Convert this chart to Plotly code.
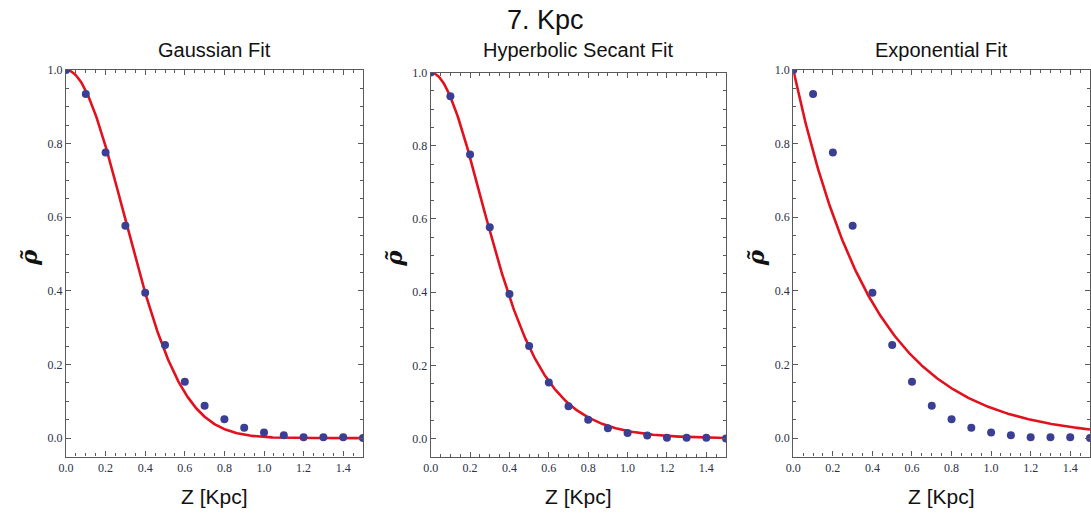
import numpy as np
import plotly.graph_objects as go

# Normalised density profile sampled every 0.1 Kpc above the plane
z_kpc = [0.0, 0.1, 0.2, 0.3, 0.4, 0.5, 0.6, 0.7, 0.8, 0.9, 1.0, 1.1, 1.2, 1.3, 1.4, 1.5]
rho_norm = [1.0, 0.935, 0.776, 0.577, 0.395, 0.253, 0.153, 0.088, 0.051, 0.028,
            0.015, 0.008, 0.002, 0.002, 0.002, 0.0]

panel_titles = ["Gaussian Fit", "Hyperbolic Secant Fit", "Exponential Fit"]
main_title = "7. Kpc"
x_title = "Z [Kpc]"
y_title = "\u03c1\u0303"

# Fitted scale heights (Kpc) for each model
h_gauss = 0.415
h_sech = 0.38
h_exp = 0.40

z_fine = np.linspace(0.0, 1.5, 301)
fits = [
    np.exp(-(z_fine / h_gauss) ** 2),
    1.0 / np.cosh(z_fine / h_sech) ** 2,
    np.exp(-z_fine / h_exp),
]

W, H = 1091, 515
# panel frames in pixels: (left, right, top, bottom)
frames = [(66, 363, 70, 456.5), (430.7, 726, 72.5, 456.8), (793.3, 1090, 70, 456.5)]

RED = "#e3101e"
BLUE = "#3b3f94"
FRAME = "#5a5a5a"
TICKFONT = dict(family="Liberation Serif, Times New Roman, serif", size=12, color="#2c2f45")
SANS = "Liberation Sans, Arial, Helvetica, sans-serif"

fig = go.Figure()
annotations = []
for i, (l, r, t, b) in enumerate(frames):
    xa = "x" if i == 0 else f"x{i+1}"
    ya = "y" if i == 0 else f"y{i+1}"
    fig.add_trace(go.Scatter(x=z_fine, y=fits[i], mode="lines",
                             line=dict(color=RED, width=2.6),
                             xaxis=xa, yaxis=ya, showlegend=False, hoverinfo="skip"))
    fig.add_trace(go.Scatter(x=z_kpc, y=rho_norm, mode="markers",
                             marker=dict(color=BLUE, size=8),
                             xaxis=xa, yaxis=ya, showlegend=False))
    axis_common = dict(
        showline=True, linecolor=FRAME, linewidth=1.2, mirror="ticks",
        ticks="inside", ticklen=5, tickcolor=FRAME, tickwidth=1,
        showgrid=False, zeroline=False, tickfont=TICKFONT,
        minor=dict(ticks="inside", ticklen=3, dtick=0.05, tickcolor=FRAME, showgrid=False),
        automargin=False, fixedrange=True,
    )
    xkey = "xaxis" if i == 0 else f"xaxis{i+1}"
    ykey = "yaxis" if i == 0 else f"yaxis{i+1}"
    fig.update_layout(**{
        xkey: dict(axis_common, domain=[l / W, r / W], range=[0, 1.5],
                   tick0=0, dtick=0.2, tickformat=".1f", anchor=ya),
        ykey: dict(axis_common, domain=[1 - b / H, 1 - t / H], range=[-0.05, 1.0],
                   tick0=0, dtick=0.2, tickformat=".1f", anchor=xa),
    })
    cx = (l + r) / 2
    annotations.append(dict(text=panel_titles[i], x=cx / W, y=1 - 50 / H,
                            xref="paper", yref="paper", showarrow=False,
                            xanchor="center", yanchor="middle",
                            font=dict(family=SANS, size=20, color="#111")))
    annotations.append(dict(text=x_title, x=cx / W, y=1 - 496 / H,
                            xref="paper", yref="paper", showarrow=False,
                            xanchor="center", yanchor="middle",
                            font=dict(family=SANS, size=21, color="#111")))
    annotations.append(dict(text=f"<b><i>{y_title}</i></b>", x=(l - 38) / W, y=1 - 258 / H,
                            xref="paper", yref="paper", showarrow=False, textangle=-90,
                            xanchor="center", yanchor="middle",
                            font=dict(family="DejaVu Serif, serif", size=23, color="#111")))

annotations.append(dict(text=main_title, x=545 / W, y=1 - 20 / H,
                        xref="paper", yref="paper", showarrow=False,
                        xanchor="center", yanchor="middle",
                        font=dict(family=SANS, size=27, color="#111")))

fig.update_layout(width=W, height=H, margin=dict(l=0, r=0, t=0, b=0),
                  paper_bgcolor="white", plot_bgcolor="white",
                  annotations=annotations)

fig.write_html("out.html")
